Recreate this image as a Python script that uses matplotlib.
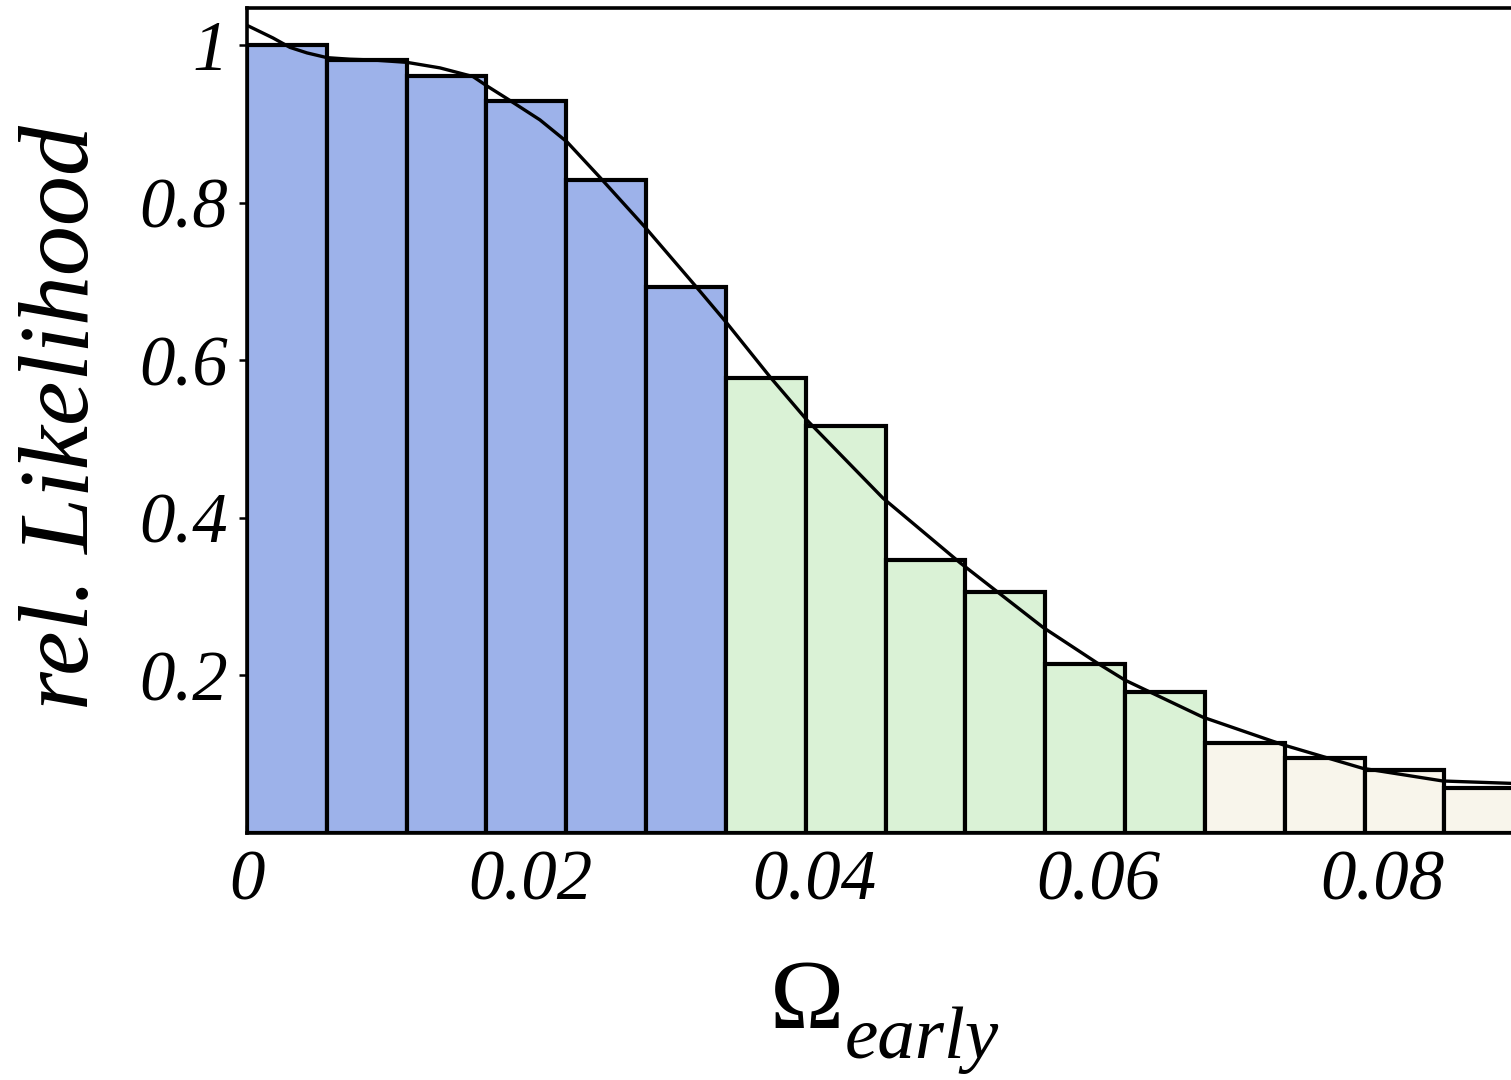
import matplotlib
matplotlib.use("Agg")
import matplotlib.pyplot as plt

# Histogram of the early dark-energy fraction (bin edges and relative likelihoods)
bin_edges = [0.0, 0.005627, 0.011254, 0.016881, 0.022508, 0.028135, 0.033762,
             0.039389, 0.045016, 0.050643, 0.056270, 0.061897, 0.067524,
             0.073151, 0.078778, 0.084405, 0.090032]
likelihood = [1.0, 0.981, 0.961, 0.929, 0.829, 0.693,
              0.577, 0.516, 0.346, 0.306, 0.214, 0.179,
              0.114, 0.095, 0.080, 0.057]
# confidence region of each bin: 1 = inner, 2 = second, 3 = outside
region = [1, 1, 1, 1, 1, 1, 2, 2, 2, 2, 2, 2, 3, 3, 3, 3]

# Smooth likelihood curve
curve_x = [0.0, 0.00183, 0.00303, 0.00423, 0.00564, 0.00726, 0.00888, 0.01128,
           0.01360, 0.01593, 0.01692, 0.01833, 0.02065, 0.02256, 0.02488,
           0.02805, 0.03172, 0.03383, 0.03686, 0.03947, 0.04483, 0.05026,
           0.05611, 0.05991, 0.06189, 0.06738, 0.07302, 0.07866, 0.08430, 0.08910]
curve_y = [1.025, 1.009, 0.997, 0.990, 0.984, 0.982, 0.981, 0.978,
           0.971, 0.960, 0.948, 0.932, 0.905, 0.877, 0.832,
           0.769, 0.692, 0.647, 0.579, 0.524, 0.425, 0.343,
           0.261, 0.216, 0.194, 0.147, 0.112, 0.082, 0.066, 0.063]

x_ticks = [0.0, 0.02, 0.04, 0.06, 0.08]
x_ticklabels = ["0", "0.02", "0.04", "0.06", "0.08"]
y_ticks = [0.2, 0.4, 0.6, 0.8, 1.0]
y_ticklabels = ["0.2", "0.4", "0.6", "0.8", "1"]

region_colors = {1: "#9db2ea", 2: "#daf2d6", 3: "#f8f5eb"}
serif = "Liberation Serif"

fig = plt.figure(figsize=(15.11, 10.8), dpi=100)
ax = fig.add_axes([247 / 1511, 1 - 833 / 1080, 1 - 247 / 1511, (833 - 8) / 1080])

lefts = bin_edges[:-1]
widths = [b - a for a, b in zip(bin_edges[:-1], bin_edges[1:])]
ax.bar(lefts, likelihood, width=widths, align="edge",
       color=[region_colors[r] for r in region],
       edgecolor="black", linewidth=3.0, zorder=2)
ax.plot(curve_x, curve_y, color="black", linewidth=2.4, zorder=3,
        solid_joinstyle="round")

ax.set_xlim(0, 0.0891)
ax.set_ylim(0, 1.047)

for side in ("left", "bottom", "top"):
    ax.spines[side].set_linewidth(2.6)
    ax.spines[side].set_zorder(4)
ax.spines["right"].set_visible(False)

ax.set_xticks(x_ticks)
ax.set_xticklabels(x_ticklabels)
ax.set_yticks(y_ticks)
ax.set_yticklabels(y_ticklabels)
ax.tick_params(axis="x", direction="in", length=6, width=2.4, pad=12)
ax.tick_params(axis="y", direction="out", length=6, width=1.8, pad=8)
for lab in ax.get_xticklabels() + ax.get_yticklabels():
    lab.set_fontfamily(serif)
    lab.set_fontstyle("italic")
    lab.set_fontsize(51)

# Axis titles
fig.text(88 / 1511, 1 - 418 / 1080, "rel. Likelihood", rotation=90,
         rotation_mode="anchor", ha="center", va="baseline",
         fontfamily=serif, fontstyle="italic", fontsize=72)
fig.text(770 / 1511, 1 - 1028 / 1080, "\u03a9", ha="left", va="baseline",
         fontfamily=serif, fontsize=72)
fig.text(845 / 1511, 1 - 1058 / 1080, "early", ha="left", va="baseline",
         fontfamily=serif, fontstyle="italic", fontsize=54)

fig.savefig("out.png", dpi=100)
